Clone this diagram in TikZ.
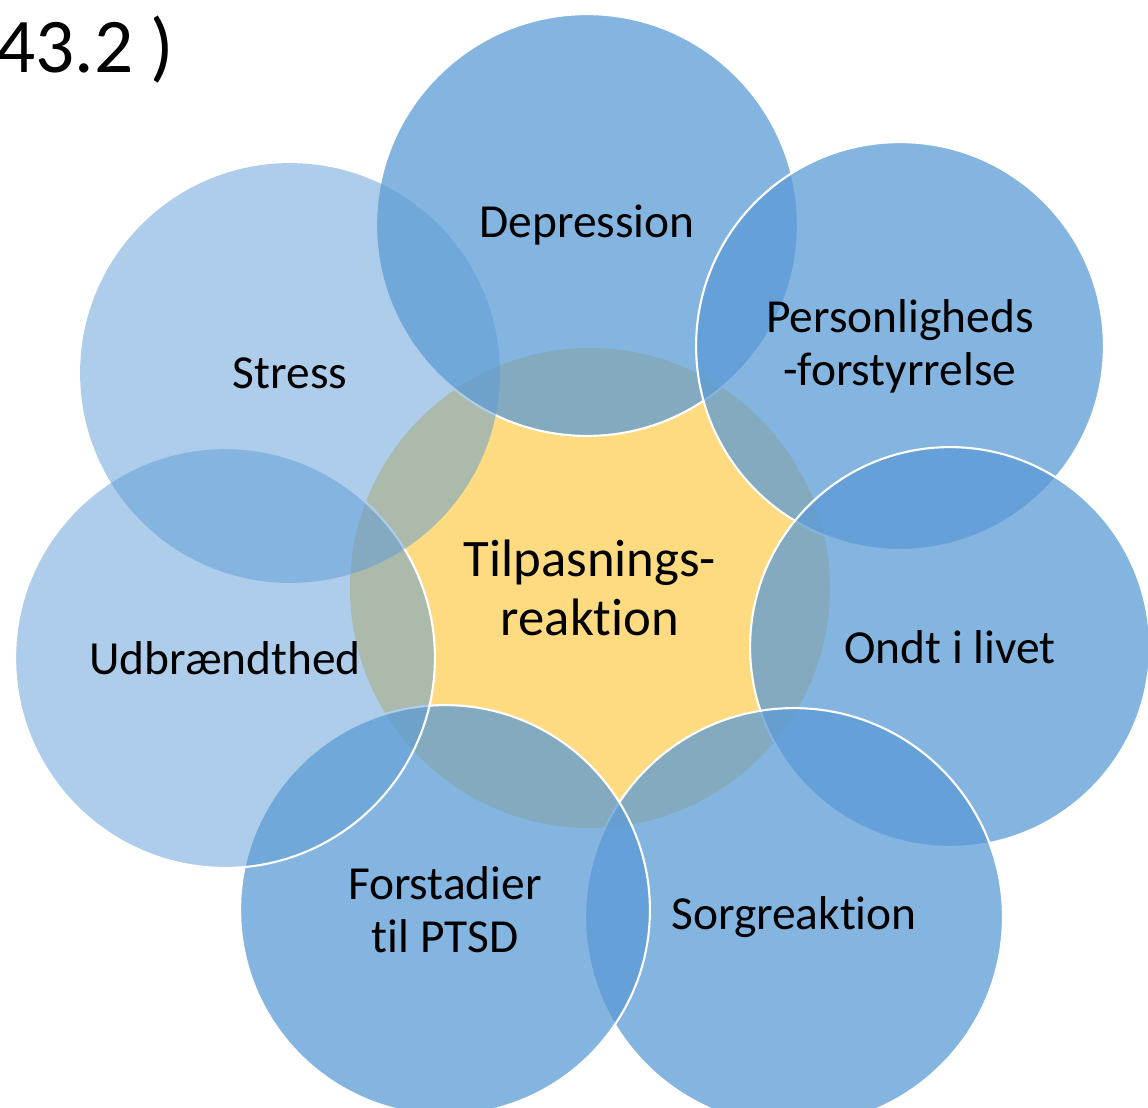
\documentclass[tikz,border=0pt]{standalone}
\usepackage{fontspec}
\setmainfont{Carlito}[Ligatures=NoCommon, RawFeature={-liga;-clig}]
\usepackage{xcolor}
\definecolor{ringblue}{HTML}{5B9BD5}
\definecolor{coreyellow}{HTML}{FEDA81}

\begin{document}
\begin{tikzpicture}[
    x=0.02cm, y=-0.02cm,
    every node/.style={font=\fontsize{27}{30}\selectfont, align=center, inner sep=0pt},
    bubble/.style={
        circle,
        fill=ringblue,
        fill opacity=0.75,
        text opacity=1,
        draw=white,
        line width=1.2pt,
        minimum size=#1*0.04cm
    },
    pale/.style={fill opacity=0.5},
    core/.style={
        circle,
        fill=coreyellow,
        minimum size=480*0.02cm,
        font=\fontsize{30}{34}\selectfont
    }
]
\useasboundingbox (0,0) rectangle (1148,1107);

\node[anchor=base west, font=\fontsize{44}{48}\selectfont] (code) at (-4,72) {43.2 )};

\node[core] (core) at (590,588) {Tilpasnings-\\reaktion};

\node[bubble=211] (depr) at (587,225) {Depression};
\node[bubble=204] (pers) at (900,346) {Personligheds\\-forstyrrelse};
\node[bubble=200] (ondt) at (950,647) {Ondt i livet};
\node[bubble=209] (sorg) at (794,917) {Sorgreaktion};
\node[bubble=205] (ptsd) at (445,910) {Forstadier\\til PTSD};
\node[bubble=210, pale] (udbr) at (225,658) {Udbrændthed};
\node[bubble=210, pale, draw=none] (stress) at (290,373) {Stress};

\end{tikzpicture}
\end{document}
